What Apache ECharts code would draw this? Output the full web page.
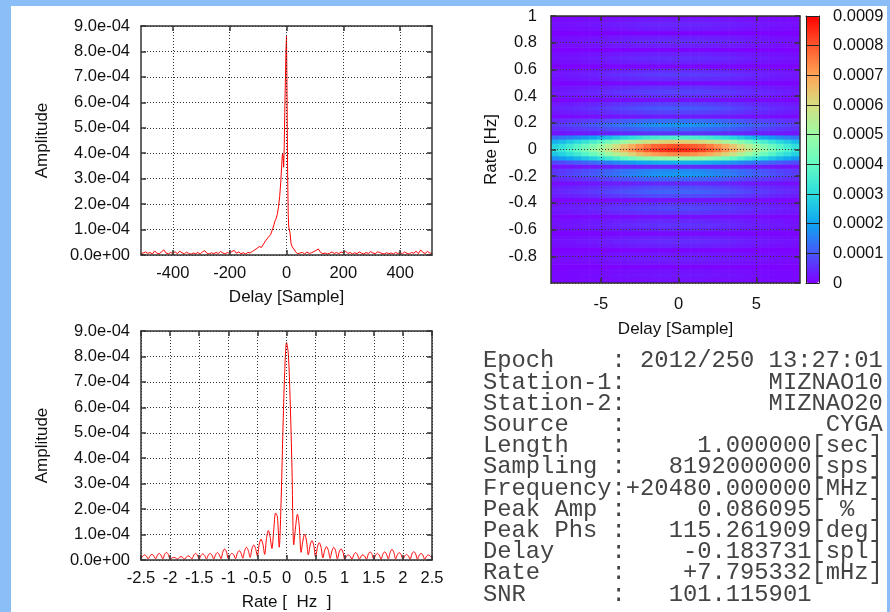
<!DOCTYPE html>
<html>
<head>
    <meta charset="UTF-8">
    <title>Fringe</title>
    <style type="text/css">
        html, body { margin: 0; padding: 0; background: #fff; }
        #main { width: 890px; height: 612px; }
    </style>
    <script type="text/javascript" src="https://cdn.jsdelivr.net/npm/echarts@6.0.0/dist/echarts.min.js"></script>
</head>
<body>
<div id="main"></div>
<script type="text/javascript">
// delay profile (top left), amplitude in units of 1e-4
var delaySamples = [
    -512, -504, -496, -488, -480, -472, -464, -456, -448, -440, -432, -424, -416, -408, -400,
    -392, -384, -376, -368, -360, -352, -344, -336, -328, -320, -312, -304, -296, -288, -280,
    -272, -264, -256, -248, -240, -232, -224, -216, -208, -200, -192, -184, -176, -168, -160,
    -152, -144, -136, -128, -120, -112, -104, -96, -88, -80, -72, -64, -56, -48, -44, -40,
    -36, -32, -28, -24, -20, -16, -14, -12, -10, -8, -6, -4, -2, 0, 2, 4, 6, 8, 10, 12, 16,
    20, 24, 28, 32, 40, 48, 56, 64, 72, 80, 88, 96, 104, 112, 120, 128, 136, 144, 152, 160,
    168, 176, 184, 192, 200, 208, 216, 224, 232, 240, 248, 256, 264, 272, 280, 288, 296, 304,
    312, 320, 328, 336, 344, 352, 360, 368, 376, 384, 392, 400, 408, 416, 424, 432, 440, 448,
    456, 464, 472, 480, 488, 496, 504, 512
];
var delayAmpE4 = [
    0.05, 0.08, 0.12, 0.06, 0.10, 0.04, 0.16, 0.07, 0.05, 0.12, 0.20, 0.08, 0.04, 0.10, 0.06,
    0.13, 0.05, 0.15, 0.09, 0.04, 0.11, 0.06, 0.03, 0.08, 0.05, 0.10, 0.04, 0.12, 0.17, 0.07,
    0.04, 0.09, 0.05, 0.10, 0.06, 0.14, 0.08, 0.04, 0.10, 0.06, 0.14, 0.18, 0.07, 0.12, 0.05,
    0.09, 0.04, 0.10, 0.08, 0.14, 0.20, 0.26, 0.33, 0.30, 0.45, 0.58, 0.70, 0.80, 1.05, 1.20, 1.35,
    1.45, 1.62, 1.90, 2.30, 2.90, 3.70, 4.00, 3.85, 3.45, 4.25, 5.60, 6.80, 8.00, 8.60, 6.20, 3.20, 1.60, 1.10, 1.08, 0.90, 0.45,
    0.32, 0.35, 0.20, 0.12, 0.05, 0.08, 0.10, 0.04, 0.12, 0.06, 0.09, 0.13, 0.18, 0.24, 0.10, 0.05, 0.08, 0.04, 0.07, 0.12,
    0.06, 0.10, 0.05, 0.12, 0.08, 0.15, 0.06, 0.10, 0.04, 0.09, 0.05, 0.12, 0.07, 0.04, 0.10, 0.06, 0.13, 0.08,
    0.05, 0.12, 0.10, 0.06, 0.04, 0.09, 0.05, 0.08, 0.04, 0.10, 0.06, 0.09, 0.05, 0.12, 0.06, 0.04, 0.10, 0.07,
    0.15, 0.05, 0.20, 0.10, 0.06, 0.14, 0.08, 0.06
];

// rate profile (bottom left), -2.5 .. 2.5 Hz in steps of 1/32 Hz, amplitude in units of 1e-4
var rateMin = -2.5;
var rateStep = 1 / 32;
var rateAmpE4 = [
    0.05, 0.15, 0.20, 0.15, 0.04, 0.17, 0.22, 0.17, 0.04, 0.19, 0.26, 0.19, 0.04, 0.22, 0.30, 0.22,
    0.03, 0.08, 0.10, 0.08, 0.03, 0.10, 0.13, 0.10, 0.03, 0.12, 0.16, 0.12, 0.04, 0.19, 0.26, 0.19,
    0.04, 0.18, 0.24, 0.18, 0.04, 0.19, 0.26, 0.19, 0.04, 0.21, 0.29, 0.21, 0.05, 0.32, 0.43, 0.32,
    0.05, 0.20, 0.26, 0.20, 0.05, 0.27, 0.37, 0.27, 0.07, 0.37, 0.50, 0.37, 0.10, 0.44, 0.59, 0.45,
    0.15, 0.62, 0.82, 0.63, 0.22, 0.85, 1.16, 0.90, 0.45, 1.20, 1.85, 1.70, 0.50, 2.23, 5.00, 7.37,
    8.55,
    8.10, 6.30, 3.64, 0.60, 1.30, 1.80, 1.35, 0.30, 0.75, 1.02, 0.75, 0.20, 0.58, 0.76, 0.57, 0.12,
    0.50, 0.68, 0.50, 0.08, 0.38, 0.52, 0.38, 0.06, 0.36, 0.50, 0.36, 0.04, 0.32, 0.44, 0.32, 0.04,
    0.15, 0.20, 0.15, 0.03, 0.21, 0.29, 0.21, 0.03, 0.15, 0.20, 0.15, 0.03, 0.23, 0.32, 0.23, 0.03,
    0.19, 0.26, 0.19, 0.03, 0.23, 0.32, 0.23, 0.04, 0.30, 0.42, 0.30, 0.04, 0.21, 0.29, 0.21, 0.03,
    0.16, 0.22, 0.16, 0.03, 0.24, 0.33, 0.24, 0.03, 0.19, 0.26, 0.19, 0.03, 0.15, 0.20, 0.15, 0.08
];

// relative amplitude across delay in the delay-rate map, -8 .. 8 samples in steps of 0.5
var heatDelayMin = -8;
var heatDelayStep = 0.5;
var heatDelayRel = [
    0.35, 0.38, 0.42, 0.46, 0.51, 0.56, 0.61, 0.67, 0.73, 0.79, 0.84, 0.89, 0.93, 0.96, 0.98, 0.995,
    1.00,
    0.995, 0.98, 0.96, 0.93, 0.89, 0.84, 0.79, 0.73, 0.67, 0.61, 0.56, 0.51, 0.46, 0.42, 0.38, 0.35
];
var heatRateLimit = 32; // rows from -1 Hz to +1 Hz

var delayTicks = [-400, -200, 0, 200, 400];
var heatDelayTicks = [-5, 0, 5];

var palette = ['#7f00ff', '#4757fb', '#0ea4f0', '#2bdddd', '#63fbc3', '#9cfba4', '#d5dd80', '#ffa457', '#ff572c', '#ff0000'];

var infoLines = [
    'Epoch    : 2012/250 13:27:01',
    'Station-1:          MIZNAO10',
    'Station-2:          MIZNAO20',
    'Source   :              CYGA',
    'Length   :     1.000000[sec]',
    'Sampling :   8192000000[sps]',
    'Frequency:+20480.000000[MHz]',
    'Peak Amp :     0.086095[ % ]',
    'Peak Phs :   115.261909[deg]',
    'Delay    :    -0.183731[spl]',
    'Rate     :    +7.795332[mHz]',
    'SNR      :   101.115901'
];

var myChart = echarts.init(document.getElementById('main'));

var delayData = delaySamples.map(function (x, i) { return [x, delayAmpE4[i] * 1e-4]; });
var rateData = rateAmpE4.map(function (a, i) { return [rateMin + i * rateStep, a * 1e-4]; });
var heatData = [];
heatDelayRel.forEach(function (rel, i) {
    var d = heatDelayMin + i * heatDelayStep;
    for (var k = -heatRateLimit; k <= heatRateLimit; k++) {
        var a = rateAmpE4[Math.round(-rateMin / rateStep) + k] * 1e-4;
        heatData.push([d, k * rateStep, rel * a]);
    }
});

function expLabel(v) {
    return v.toExponential(1).replace(/e([+-])(\d)$/, 'e$10$2');
}

var FONT = 'Liberation Sans, Arial, sans-serif';
var textC = '#111';
var lab = { color: textC, fontSize: 16.5, fontFamily: FONT };
var nameStyle = { color: textC, fontSize: 17, fontFamily: FONT };
var axLine = { show: true, onZero: false, lineStyle: { color: '#333', width: 1.5 } };
var thinLine = { show: true, onZero: false, lineStyle: { color: '#222', width: 1 } };
var dots = { show: true, lineStyle: { color: '#333', type: [1, 2], width: 1 } };
var tickIn = { show: true, inside: true, length: 5, lineStyle: { color: '#333', width: 1.5 } };

function mainX(grid, min, max, extra) {
    return Object.assign({
        type: 'value', gridIndex: grid, min: min, max: max, position: 'bottom', z: 5,
        axisLine: axLine, axisTick: tickIn, splitLine: dots,
        axisLabel: Object.assign({ margin: 10 }, lab),
        nameLocation: 'middle', nameTextStyle: nameStyle
    }, extra);
}
function mirrorX(grid, min, max, extra) {
    return Object.assign({
        type: 'value', gridIndex: grid, min: min, max: max, position: 'top', z: 5,
        axisLine: axLine, axisTick: tickIn, splitLine: { show: false }, axisLabel: { show: false }
    }, extra);
}
function mainY(grid, min, max, interval, extra) {
    return Object.assign({
        type: 'value', gridIndex: grid, min: min, max: max, interval: interval, position: 'left', z: 5,
        axisLine: axLine, axisTick: tickIn, splitLine: dots,
        axisLabel: Object.assign({ margin: 11 }, lab),
        nameLocation: 'middle', nameRotate: 90, nameTextStyle: nameStyle
    }, extra);
}
function mirrorY(grid, min, max, interval, extra) {
    return Object.assign({
        type: 'value', gridIndex: grid, min: min, max: max, interval: interval, position: 'right', z: 5,
        axisLine: axLine, axisTick: tickIn, splitLine: { show: false }, axisLabel: { show: false }
    }, extra);
}

var option = {
    animation: false,
    backgroundColor: '#fff',
    graphic: [
        { type: 'rect', silent: true, shape: { x: 0, y: 0, width: 890, height: 6 }, style: { fill: '#8bbdf6' } },
        { type: 'rect', silent: true, shape: { x: 0, y: 0, width: 11, height: 612 }, style: { fill: '#8bbdf6' } },
        { type: 'rect', silent: true, shape: { x: 887, y: 0, width: 3, height: 612 }, style: { fill: '#8bbdf6' } },
        {
            type: 'text', left: 483, top: 349,
            style: {
                text: infoLines.join('\n'), fill: '#444',
                fontSize: 23.8, fontFamily: 'Liberation Mono, Courier New, monospace', lineHeight: 21.2
            }
        }
    ],
    grid: [
        { left: 141, top: 26, width: 291, height: 229 },
        { left: 141, top: 331, width: 291, height: 229 },
        { left: 551, top: 16, width: 249, height: 267 },
        { left: 806, top: 16, width: 13, height: 267 }
    ],
    visualMap: {
        type: 'continuous', min: 0, max: 9e-4, dimension: 2, seriesIndex: 2,
        calculable: false, hoverLink: false, realtime: false,
        left: 806, top: 16, itemWidth: 13, itemHeight: 267, padding: 0,
        inRange: { color: palette }, textStyle: { color: 'transparent' }
    },
    xAxis: [
        mainX(0, -512, 512, { name: 'Delay [Sample]', nameGap: 34, axisTick: Object.assign({ customValues: delayTicks }, tickIn), axisLabel: Object.assign({ margin: 10, customValues: delayTicks }, lab) }),
        mirrorX(0, -512, 512, { axisTick: Object.assign({ customValues: delayTicks }, tickIn) }),
        mainX(1, -2.5, 2.5, { interval: 0.5, name: 'Rate [  Hz  ]', nameGap: 34 }),
        mirrorX(1, -2.5, 2.5, { interval: 0.5 }),
        mainX(2, -8.2, 7.8, { name: 'Delay [Sample]', nameGap: 38, axisTick: Object.assign({ customValues: heatDelayTicks }, tickIn), axisLabel: Object.assign({ margin: 13, customValues: heatDelayTicks }, lab) }),
        mirrorX(2, -8.2, 7.8, { axisTick: Object.assign({ customValues: heatDelayTicks }, tickIn) }),
        { type: 'value', gridIndex: 3, min: 0, max: 1, position: 'bottom', z: 6, axisLine: thinLine, axisTick: { show: false }, axisLabel: { show: false }, splitLine: { show: false } },
        { type: 'value', gridIndex: 3, min: 0, max: 1, position: 'top', z: 6, axisLine: thinLine, axisTick: { show: false }, axisLabel: { show: false }, splitLine: { show: false } }
    ],
    yAxis: [
        mainY(0, 0, 9e-4, 1e-4, { name: 'Amplitude', nameGap: 90, axisLabel: Object.assign({ margin: 11, formatter: expLabel }, lab) }),
        mirrorY(0, 0, 9e-4, 1e-4),
        mainY(1, 0, 9e-4, 1e-4, { name: 'Amplitude', nameGap: 90, axisLabel: Object.assign({ margin: 11, formatter: expLabel }, lab) }),
        mirrorY(1, 0, 9e-4, 1e-4),
        mainY(2, -1, 1, 0.2, { name: 'Rate [Hz]', nameGap: 51, axisLabel: Object.assign({ margin: 14, showMinLabel: false }, lab) }),
        mirrorY(2, -1, 1, 0.2),
        { type: 'value', gridIndex: 3, min: 0, max: 9e-4, interval: 1e-4, position: 'left', z: 6, axisLine: thinLine, axisTick: { show: false }, axisLabel: { show: false }, splitLine: { show: true, lineStyle: { color: '#222', width: 1 } } },
        {
            type: 'value', gridIndex: 3, min: 0, max: 9e-4, interval: 1e-4, position: 'right', z: 6,
            axisLine: thinLine, axisTick: { show: false }, splitLine: { show: false },
            axisLabel: Object.assign({ margin: 14, formatter: function (v) { return v === 0 ? '0' : v.toFixed(4); } }, lab)
        }
    ],
    series: [
        {
            type: 'line', xAxisIndex: 0, yAxisIndex: 0, data: delayData, showSymbol: false,
            lineStyle: { color: '#ff0000', width: 1 }, z: 3
        },
        {
            type: 'line', xAxisIndex: 2, yAxisIndex: 2, data: rateData, showSymbol: false, smooth: 0.3,
            lineStyle: { color: '#ff0000', width: 1 }, z: 3
        },
        {
            type: 'custom', xAxisIndex: 4, yAxisIndex: 4, data: heatData, z: 1,
            encode: { x: 0, y: 1 },
            renderItem: function (params, api) {
                var d = api.value(0), r = api.value(1);
                var p0 = api.coord([d - heatDelayStep / 2, r + rateStep / 2]);
                var p1 = api.coord([d + heatDelayStep / 2, r - rateStep / 2]);
                var rect = echarts.graphic.clipRectByRect(
                    { x: p0[0], y: p0[1], width: p1[0] - p0[0] + 0.6, height: p1[1] - p0[1] + 0.6 },
                    { x: params.coordSys.x, y: params.coordSys.y, width: params.coordSys.width, height: params.coordSys.height }
                );
                return rect && { type: 'rect', shape: rect, style: { fill: api.visual('color') } };
            }
        }
    ]
};
myChart.setOption(option);
</script>
</body>
</html>
